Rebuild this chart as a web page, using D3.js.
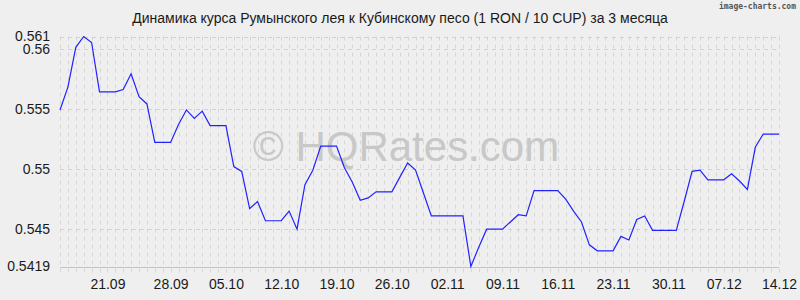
<!DOCTYPE html>
<html>
<head>
<meta charset="utf-8">
<script src="https://cdn.jsdelivr.net/npm/d3@7"></script>
<style>
  body { margin: 0; background: #efefef; }
  text { font-family: "Liberation Sans", Arial, sans-serif; }
</style>
</head>
<body>
<div id="graphic"></div>
<script>
// daily RON/CUP rate (x10), 14.09 .. 14.12
const startDate = "2020-09-14";
const endDate = "2020-12-14";
const rates = [
  0.5549, 0.5568, 0.5601, 0.5610, 0.5605, 0.5564, 0.5564, 0.5564, 0.5566, 0.5579,
  0.5560, 0.5554, 0.5522, 0.5522, 0.5522, 0.5537, 0.5549, 0.5542, 0.5548, 0.5536,
  0.5536, 0.5536, 0.5502, 0.5498, 0.5467, 0.5473, 0.5457, 0.5457, 0.5457, 0.5465,
  0.5450, 0.5487, 0.5499, 0.5519, 0.5519, 0.5519, 0.5501, 0.5489, 0.5474, 0.5476,
  0.5481, 0.5481, 0.5481, 0.5493, 0.5505, 0.5499, 0.5480, 0.5461, 0.5461, 0.5461,
  0.5461, 0.5461, 0.5419, 0.5435, 0.5450, 0.5450, 0.5450, 0.5456, 0.5462, 0.5461,
  0.5482, 0.5482, 0.5482, 0.5482, 0.5475, 0.5465, 0.5456, 0.5437, 0.5432, 0.5432,
  0.5432, 0.5444, 0.5441, 0.5458, 0.5461, 0.5449, 0.5449, 0.5449, 0.5449, 0.5473,
  0.5498, 0.5499, 0.5491, 0.5491, 0.5491, 0.5496, 0.5490, 0.5483, 0.5518, 0.5529,
  0.5529, 0.5529
];
const yTicks = [0.5419, 0.545, 0.55, 0.555, 0.56, 0.561];
const xTickDates = ["2020-09-20", "2020-09-28", "2020-10-05", "2020-10-12", "2020-10-19",
  "2020-10-26", "2020-11-02", "2020-11-09", "2020-11-16", "2020-11-23", "2020-11-30",
  "2020-12-07", "2020-12-14"];
const xTickLabels = ["21.09", "28.09", "05.10", "12.10", "19.10", "26.10", "02.11",
  "09.11", "16.11", "23.11", "30.11", "07.12", "14.12"];

const title = "Динамика курса Румынского лея к Кубинскому песо (1 RON / 10 CUP) за 3 месяца";

const width = 800, height = 300;
const margin = {top: 36.5, right: 21, bottom: 33.5, left: 60};

const parse = d3.timeParse("%Y-%m-%d");
const days = d3.timeDay.range(parse(startDate), d3.timeDay.offset(parse(endDate), 1));
const data = days.map((d, i) => ({date: d, value: rates[i]}));

const svg = d3.select("#graphic")
    .append("svg")
    .attr("width", width)
    .attr("height", height)
    .style("background", "#efefef");

const x = d3.scaleTime()
    .domain([parse(startDate), parse(endDate)])
    .range([margin.left, width - margin.right]);

const y = d3.scaleLinear()
    .domain([d3.min(yTicks), d3.max(yTicks)])
    .range([height - margin.bottom, margin.top]);

// vertical grid, one per day
svg.append("g")
    .selectAll("line")
    .data(days)
    .join("line")
    .attr("x1", d => Math.round(x(d)) + 0.5)
    .attr("x2", d => Math.round(x(d)) + 0.5)
    .attr("y1", margin.top)
    .attr("y2", height - margin.bottom + 9)
    .style("stroke", "#d6d6d6")
    .style("stroke-dasharray", "4,4");

// horizontal grid
svg.append("g")
    .selectAll("line")
    .data(yTicks)
    .join("line")
    .attr("x1", margin.left)
    .attr("x2", width - margin.right)
    .attr("y1", d => Math.round(y(d)) + 0.5)
    .attr("y2", d => Math.round(y(d)) + 0.5)
    .style("stroke", d => d === d3.min(yTicks) ? "#c4c4c4" : "#d2d2d2")
    .style("stroke-dasharray", d => d === d3.min(yTicks) ? null : "4,4");

// watermark
svg.append("text")
    .attr("x", 406)
    .attr("y", 161)
    .attr("text-anchor", "middle")
    .style("font-size", "42px")
    .style("fill", "#c8c8c8")
    .text("© HQRates.com");

// y axis labels
const yAxis = d3.axisLeft(y)
    .tickValues(yTicks)
    .tickFormat(d => String(d))
    .tickSize(0)
    .tickPadding(10);
const gy = svg.append("g")
    .attr("transform", `translate(${margin.left},0)`)
    .call(yAxis);
gy.select(".domain").remove();
gy.selectAll("text")
    .style("font-size", "14px")
    .style("fill", "#1a1a1a")
    .style("font-family", "Liberation Sans, Arial, sans-serif");

// x axis labels
const xAxis = d3.axisBottom(x)
    .tickValues(xTickDates.map(parse))
    .tickFormat((d, i) => xTickLabels[i])
    .tickSize(0)
    .tickPadding(13);
const gx = svg.append("g")
    .attr("transform", `translate(0,${height - margin.bottom})`)
    .call(xAxis);
gx.select(".domain").remove();
gx.selectAll("text")
    .style("font-size", "14px")
    .style("fill", "#1a1a1a")
    .style("font-family", "Liberation Sans, Arial, sans-serif");

// rate line
const line = d3.line()
    .x(d => x(d.date))
    .y(d => y(d.value));

svg.append("path")
    .datum(data)
    .attr("d", line)
    .style("fill", "none")
    .style("stroke", "#2222ff")
    .style("stroke-width", 1.2);

// title
svg.append("text")
    .attr("x", 400)
    .attr("y", 23)
    .attr("text-anchor", "middle")
    .style("font-size", "14px")
    .style("fill", "#1a1a1a")
    .text(title);

svg.append("text")
    .attr("x", 796)
    .attr("y", 9)
    .attr("text-anchor", "end")
    .style("font-family", "DejaVu Sans Mono, monospace")
    .style("font-size", "8px")
    .style("font-weight", "bold")
    .style("fill", "#555")
    .text("image-charts.com");
</script>
</body>
</html>
